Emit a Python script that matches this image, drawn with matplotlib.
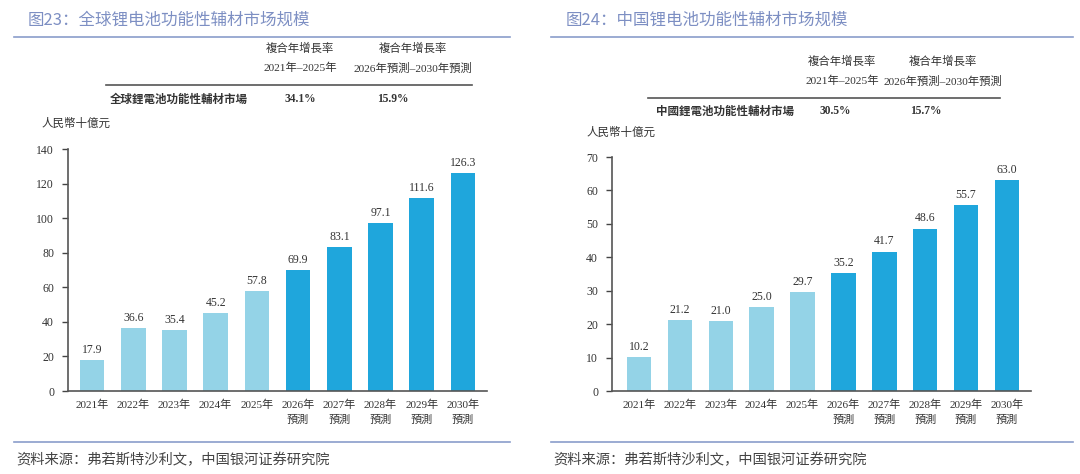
import matplotlib
matplotlib.use("Agg")
import matplotlib.pyplot as plt
from matplotlib.lines import Line2D

years = ["2021年", "2022年", "2023年", "2024年", "2025年",
         "2026年\n預測", "2027年\n預測", "2028年\n預測", "2029年\n預測", "2030年\n預測"]
global_vals = [17.9, 36.6, 35.4, 45.2, 57.8, 69.9, 83.1, 97.1, 111.6, 126.3]
china_vals = [10.2, 21.2, 21.0, 25.0, 29.7, 35.2, 41.7, 48.6, 55.7, 63.0]
n_actual = 5
global_cagr = ["34.1%", "15.9%"]
china_cagr = ["30.5%", "15.7%"]
cagr_header = ["複合年增長率\n2021年–2025年", "複合年增長率\n2026年預測–2030年預測"]
titles = ["图23：全球锂电池功能性辅材市场规模", "图24：中国锂电池功能性辅材市场规模"]
row_labels = ["全球鋰電池功能性輔材市場", "中國鋰電池功能性輔材市場"]
unit = "人民幣十億元"
source = "资料来源：弗若斯特沙利文，中国银河证券研究院"

W, H = 1080, 474
fig = plt.figure(figsize=(W / 100, H / 100), dpi=100)
SERIF = ["Liberation Serif", "Noto Sans CJK SC"]
SANS = ["Noto Sans CJK SC", "DejaVu Sans"]
LIGHT = "#94d3e7"
DARK = "#1fa6dc"
TITLE_C = "#7d8fc3"
LINE_C = "#8a9dcb"
TXT = "#333333"

def fx(x): return x / W
def fy(y): return 1 - y / H

def panel(vals, cagr, title, rowlab, geo):
    (tx, lx0, lx1, hy1, hy2, c1, c2, tl0, tl1, tly, rowy, rowx, v1, v2,
     unitx, unity, ax_l, ax_r, ax_top, ax_bot, ymax, step, xl0, xl1) = geo
    fig.text(fx(tx), fy(20), title, fontsize=11.9, color=TITLE_C, family=SANS,
             va="center", ha="left")
    fig.add_artist(Line2D([fx(lx0), fx(lx1)], [fy(37), fy(37)], color=LINE_C, lw=1.2))
    fig.add_artist(Line2D([fx(lx0), fx(lx1)], [fy(442), fy(442)], color=LINE_C, lw=1.2))
    for cx, hdr in zip([c1, c2], cagr_header):
        l1, l2 = hdr.split("\n")
        fig.text(fx(cx), fy(hy1), l1, fontsize=8.2, color=TXT, family=SERIF, ha="center", va="center")
        fig.text(fx(cx), fy(hy2), l2, fontsize=8.2, color=TXT, family=SERIF, ha="center", va="center")
    fig.add_artist(Line2D([fx(tl0), fx(tl1)], [fy(tly), fy(tly)], color="#555555", lw=1.2))
    fig.text(fx(rowx), fy(rowy), rowlab, fontsize=8.3, color=TXT, family=SANS,
             weight="bold", ha="left", va="center")
    fig.text(fx(v1), fy(rowy), cagr[0], fontsize=8.3, color=TXT, family=SERIF,
             weight="bold", ha="center", va="center")
    fig.text(fx(v2), fy(rowy), cagr[1], fontsize=8.3, color=TXT, family=SERIF,
             weight="bold", ha="center", va="center")
    fig.text(fx(unitx), fy(unity), unit, fontsize=8.3, color=TXT, family=SERIF,
             ha="left", va="center")
    fig.text(fx(lx0 + 2), fy(460), source, fontsize=10.3, color="#444444", family=SANS,
             style="italic", ha="left", va="center")

    ax = fig.add_axes([fx(ax_l), fy(ax_bot), fx(ax_r - ax_l), (ax_bot - ax_top) / H])
    xs = list(range(len(vals)))
    colors = [LIGHT] * n_actual + [DARK] * (len(vals) - n_actual)
    ax.bar(xs, vals, width=0.6, color=colors)
    for x, v in zip(xs, vals):
        ax.annotate(f"{v:.1f}", (x, v), xytext=(0, 3), textcoords="offset points",
                    ha="center", va="bottom", fontsize=8.5, color=TXT, family=SERIF)
    ax.set_ylim(0, ymax)
    ax.set_yticks(range(0, ymax + 1, step))
    ax.set_xlim(xl0, xl1)
    ax.set_xticks(xs)
    ax.set_xticklabels(years, fontsize=8, family=SERIF, color=TXT, linespacing=1.6)
    for lab in ax.get_yticklabels():
        lab.set_family(SERIF)
    ax.tick_params(axis="y", labelsize=8.5, labelcolor=TXT, length=4, width=1, color="#444444", direction="out", pad=6)
    ax.tick_params(axis="x", length=0, pad=6)
    for s in ["top", "right"]:
        ax.spines[s].set_visible(False)
    for s in ["left", "bottom"]:
        ax.spines[s].set_color("#555555")
        ax.spines[s].set_linewidth(1.2)
    ax.patch.set_alpha(0)
    return ax

panel(global_vals, global_cagr, titles[0], row_labels[0],
      (28, 14, 510, 48, 68, 300, 413, 106, 472, 85, 99, 110, 300, 393,
       42, 124, 68, 487, 149, 391, 140, 20, -0.582, 9.582))
panel(china_vals, china_cagr, titles[1], row_labels[1],
      (566, 551, 1073, 61, 81, 842, 943, 648, 1000, 98, 111, 656, 835, 926,
       587, 133, 612, 1031, 157, 391, 70, 10, -0.66, 9.587))

fig.savefig("out.png", dpi=100)
